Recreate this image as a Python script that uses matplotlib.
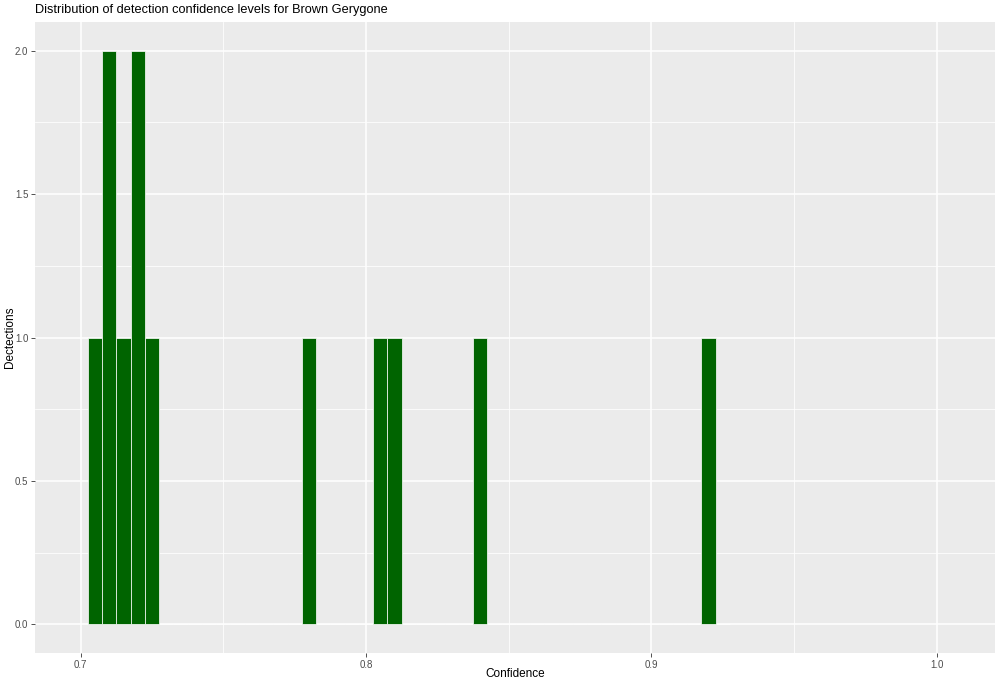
import numpy as np
import matplotlib
matplotlib.use('Agg')
from matplotlib import pyplot as plt
from matplotlib.ticker import MultipleLocator

plt.rcParams['font.family'] = ['Liberation Sans', 'DejaVu Sans']

# confidence values of the Brown Gerygone detections
confidence = [0.705, 0.71, 0.71, 0.715, 0.72, 0.72, 0.725,
              0.78, 0.805, 0.81, 0.84, 0.92]
binwidth = 0.005
x_ticks = [0.7, 0.8, 0.9, 1.0]
y_ticks = [0.0, 0.5, 1.0, 1.5, 2.0]

fig = plt.figure(figsize=(10, 6.85), dpi=100)
ax = fig.add_axes([0.035, 32 / 685, 0.96, 631 / 685])
ax.set_facecolor('#EBEBEB')

edges = np.arange(0.7025, 0.93, binwidth)
ax.hist(confidence, bins=edges, color='#006400', edgecolor='white',
        linewidth=0.5, zorder=3)

ax.set_xlim(0.684, 1.0204)
ax.set_ylim(-0.1, 2.1)
ax.set_xticks(x_ticks)
ax.set_xticklabels(['0.7', '0.8', '0.9', '1.0'])
ax.set_yticks(y_ticks)
ax.set_yticklabels(['0.0', '0.5', '1.0', '1.5', '2.0'])
ax.xaxis.set_minor_locator(MultipleLocator(0.05))
ax.yaxis.set_minor_locator(MultipleLocator(0.25))

ax.grid(which='major', color='white', linewidth=1.1, zorder=0)
ax.grid(which='minor', color='white', linewidth=0.55, zorder=0)
ax.set_axisbelow(True)
for s in ax.spines.values():
    s.set_visible(False)
ax.tick_params(which='major', length=2.8, width=0.6, color='#333333',
               labelsize=7, labelcolor='#4D4D4D', pad=2)
ax.tick_params(which='minor', length=0)

ax.set_xlabel('Confidence', fontsize=8.5, va='center')
ax.set_ylabel('Dectections', fontsize=8.5, va='center')
ax.xaxis.set_label_coords(0.5, -21 / 631)
ax.yaxis.set_label_coords(-25 / 960, 0.5)
fig.text(0.035, 1 - 10 / 685, 'Distribution of detection confidence levels for Brown Gerygone',
         fontsize=9.2, ha='left', va='center')

fig.savefig('out.png', dpi=100)
